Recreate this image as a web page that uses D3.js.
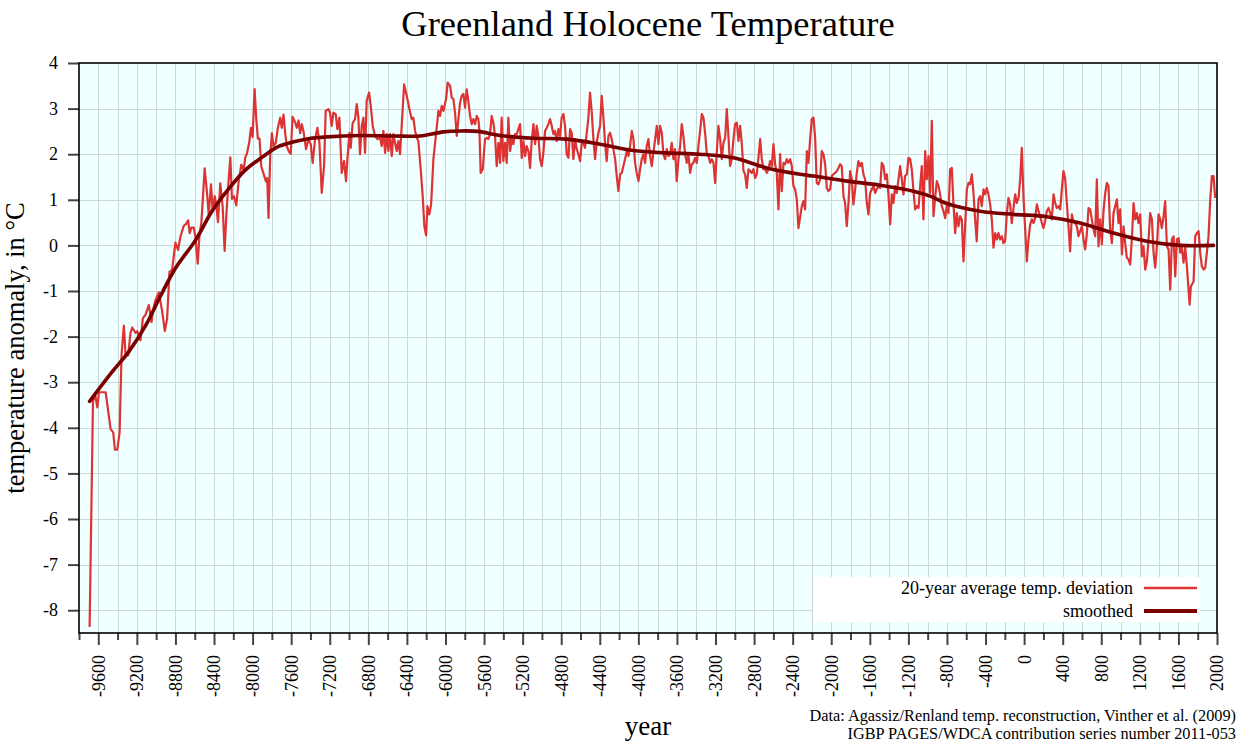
<!DOCTYPE html>
<html><head><meta charset="utf-8">
<script src="https://cdn.jsdelivr.net/npm/d3@7"></script>
<style>
body{margin:0;background:#fff}
svg{display:block;font-family:"Liberation Serif","Times New Roman",serif}
</style>
</head><body>
<svg id="chart" width="1243" height="743"></svg>
<script>
// ---------- data ----------
const chartTitle = "Greenland Holocene Temperature";
const yTitle = "temperature anomaly, in °C";
const xTitle = "year";
const creditLines = ["Data: Agassiz/Renland temp. reconstruction, Vinther et al. (2009)",
                     "IGBP PAGES/WDCA contribution series number 2011-053"];
const legendLabels = ["20-year average temp. deviation", "smoothed"];
const xDomain = [-9800, 2000];
const yDomain = [-8.5, 4];
const xMajorTicks = [-9600,-9200,-8800,-8400,-8000,-7600,-7200,-6800,-6400,-6000,-5600,-5200,-4800,-4400,-4000,-3600,-3200,-2800,-2400,-2000,-1600,-1200,-800,-400,0,400,800,1200,1600,2000];
const xMinorTicks = [-9800,-9400,-9000,-8600,-8200,-7800,-7400,-7000,-6600,-6200,-5800,-5400,-5000,-4600,-4200,-3800,-3400,-3000,-2600,-2200,-1800,-1400,-1000,-600,-200,200,600,1000,1400,1800];
const yTicks = [-8,-7,-6,-5,-4,-3,-2,-1,0,1,2,3,4];

// 20-year average temperature deviation [year, °C]
const deviation = [
[-9690,-8.37],[-9655,-3.42],[-9634,-3.26],[-9610,-3.55],[-9593,-3.22],[-9524,-3.22],[-9472,-4.03],[-9445,-4.1],[-9428,-4.48],[-9403,-4.48],[-9379,-4.1],[-9359,-2.41],[-9335,-1.76],[-9317,-2.41],[-9290,-2.41],[-9266,-1.92],[-9248,-1.8],[-9214,-1.92],[-9197,-1.88],[-9162,-2.08],[-9138,-1.6],[-9110,-1.52],[-9076,-1.31],[-9048,-1.68],[-9034,-1.44],[-9007,-1.2],[-8972,-1.03],[-8938,-1.44],[-8910,-1.88],[-8886,-1.6],[-8862,-0.58],[-8835,-0.54],[-8800,0.06],[-8773,-0.1],[-8748,0.19],[-8714,0.43],[-8690,0.47],[-8669,0.55],[-8652,0.27],[-8635,0.39],[-8610,0.39],[-8593,0.19],[-8569,-0.4],[-8552,0.19],[-8531,0.51],[-8517,0.97],[-8497,1.69],[-8473,1.16],[-8455,0.67],[-8431,1.34],[-8414,0.75],[-8393,1.08],[-8376,0.88],[-8359,0.51],[-8335,1.36],[-8310,0.84],[-8290,-0.12],[-8272,0.67],[-8255,1.24],[-8231,1.93],[-8214,1.02],[-8193,1.08],[-8169,0.88],[-8145,1.4],[-8117,1.77],[-8093,1.65],[-8076,1.93],[-8059,2.01],[-8035,2.26],[-8017,2.58],[-8000,2.38],[-7979,3.43],[-7962,2.78],[-7945,2.34],[-7928,2.34],[-7910,1.73],[-7886,1.57],[-7862,1.4],[-7848,1.48],[-7835,0.6],[-7817,1.97],[-7800,2.46],[-7783,2.17],[-7759,2.26],[-7738,2.58],[-7714,2.8],[-7697,2.58],[-7679,2.87],[-7662,2.46],[-7645,2.17],[-7621,2.05],[-7604,2.01],[-7586,2.82],[-7559,2.7],[-7542,2.58],[-7524,2.74],[-7507,2.46],[-7490,2.66],
[-7473,2.51],[-7446,2.11],[-7422,2.33],[-7397,2.22],[-7377,1.81],[-7352,2.33],[-7328,2.58],[-7307,2.25],[-7283,1.15],[-7259,1.74],[-7242,2.95],[-7214,2.99],[-7197,2.91],[-7180,2.62],[-7162,2.91],[-7138,2.88],[-7121,2.55],[-7100,2.8],[-7076,1.59],[-7052,1.85],[-7031,1.41],[-7017,1.89],[-6996,2.47],[-6983,2.14],[-6962,2.69],[-6938,2.77],[-6920,3.1],[-6903,2.8],[-6886,2.0],[-6868,2.62],[-6851,2.8],[-6834,2.03],[-6817,3.17],[-6792,3.35],[-6775,3.06],[-6754,2.62],[-6730,2.4],[-6706,2.33],[-6678,2.36],[-6661,2.18],[-6644,2.51],[-6626,2.03],[-6609,2.44],[-6592,2.07],[-6575,2.44],[-6557,1.96],[-6540,2.44],[-6523,2.25],[-6505,2.07],[-6488,2.29],[-6471,2.0],[-6454,2.62],[-6429,3.53],[-6402,3.28],[-6374,2.99],[-6350,2.77],[-6333,2.8],[-6315,2.51],[-6298,2.36],[-6281,2.29],[-6257,1.67],[-6236,1.08],[-6219,0.42],[-6201,0.22],[-6187,0.86],[-6167,0.68],[-6149,0.9],[-6125,1.89],[-6098,2.44],[-6073,2.95],[-6056,2.84],[-6039,3.06],[-6021,2.95],[-5994,3.21],[-5977,3.57],[-5952,3.5],[-5935,3.24],[-5918,3.21],[-5901,2.91],[-5883,2.4],
[-5849,3.13],[-5832,3.28],[-5814,3.32],[-5797,3.02],[-5780,3.42],[-5763,3.17],[-5745,2.84],[-5728,2.66],[-5711,2.77],[-5693,2.66],[-5676,2.84],[-5659,2.77],[-5648,2.51],[-5635,1.59],[-5614,1.67],[-5590,2.33],[-5572,2.36],[-5555,2.33],[-5538,2.44],[-5521,2.84],[-5503,2.69],[-5486,2.4],[-5469,1.74],[-5451,2.25],[-5434,1.81],[-5417,2.8],[-5400,1.85],[-5382,2.25],[-5365,1.81],[-5348,2.8],[-5330,2.07],[-5313,2.33],[-5296,2.22],[-5279,2.44],[-5261,2.44],[-5244,2.55],[-5227,2.66],[-5209,1.92],[-5192,2.29],[-5175,1.96],[-5158,2.18],[-5140,2.07],[-5123,1.7],[-5106,2.29],[-5088,2.66],[-5071,2.22],[-5054,2.62],[-5037,2.4],[-5019,1.89],[-5002,1.74],[-4985,2.03],[-4967,2.51],[-4950,2.58],[-4933,2.66],[-4916,2.77],[-4898,2.62],[-4881,2.44],[-4864,2.51],[-4846,2.29],[-4829,2.55],[-4812,2.4],[-4795,2.8],[-4777,2.88],[-4760,2.62],[-4743,2.0],[-4725,1.92],[-4708,2.55],[-4691,2.47],[-4674,1.89],[-4656,2.33],[-4639,2.11],[-4622,2.0],[-4604,1.85],[-4587,2.25],[-4570,2.25],[-4553,2.14],[-4535,2.47],[-4518,2.8],[-4501,3.35],[-4483,2.91],[-4466,2.33],[-4449,1.89],[-4432,2.25],[-4414,2.47],[-4397,2.62],[-4380,3.28],[-4362,2.8],[-4345,2.22],[-4328,1.85],[-4310,2.4],[-4293,2.47],[-4276,2.33],[-4259,2.11],[-4241,1.89],[-4224,1.52],[-4207,1.19],[-4189,1.56],[-4172,1.59],[-4155,1.74],[-4138,1.89],[-4120,2.07],[-4103,1.96],[-4086,2.18],[-4068,2.51],[-4051,2.33],[-4034,1.81],[-4017,1.59],[-3999,1.41],[-3982,1.67],[-3965,1.89],[-3947,2.0],[-3930,1.81],[-3913,2.18],[-3896,2.33],[-3878,1.96],[-3861,1.74],[-3844,2.03],[-3826,2.33],[-3809,2.62],[-3792,2.22],[-3775,2.62],[-3757,2.47],[-3740,2.0],[-3723,1.89],[-3705,2.11],[-3688,1.96],[-3671,2.0],[-3654,2.25],[-3636,1.89],[-3619,2.11],[-3602,1.41],[-3584,1.89],[-3567,2.18],[-3550,2.66],[-3533,2.4],[-3515,2.0],[-3498,1.81],[-3481,2.0],[-3463,1.59],[-3446,1.78],[-3429,1.81],[-3412,1.92],[-3394,1.81],[-3377,2.18],[-3360,2.51],[-3342,2.88],[-3325,2.8],[-3308,2.47],[-3291,2.03],[-3273,1.96],[-3256,1.81],[-3239,1.89],[-3221,1.81],[-3204,1.37],[-3187,2.03],[-3170,2.62],[-3152,2.33],[-3135,1.89],[-3118,2.25],[-3100,2.36],[-3083,2.99],[-3066,2.4],[-3049,1.74],[-3031,1.89],[-3014,2.33],[-2997,2.66],[-2979,2.69],[-2962,2.29],[-2945,2.62],[-2928,2.25],[-2910,1.63],[-2893,1.56],[-2876,1.26],[-2858,1.67],[-2841,1.63],[-2824,1.59],[-2807,1.67],[-2789,1.48],[-2772,1.56],[-2755,1.92],[-2737,2.33],[-2720,1.89],[-2703,1.67],[-2686,1.67],[-2668,1.59],[-2651,1.67],[-2634,1.85],[-2616,1.74],[-2599,2.22],[-2582,1.78],[-2565,1.59],[-2547,0.79],[-2530,2.0],[-2513,1.19],[-2495,1.81],[-2478,1.78],[-2461,1.89],[-2444,1.81],[-2426,1.89],[-2409,1.74],[-2392,1.3],[-2374,1.23],[-2357,1.01],[-2340,0.38],
[-2305,0.86],[-2288,0.97],[-2271,0.79],[-2253,2.07],[-2236,1.81],[-2219,2.33],[-2202,2.77],[-2184,2.8],[-2167,2.36],[-2150,1.37],[-2133,1.34],[-2115,1.45],[-2098,2.07],[-2081,2.0],[-2063,1.78],[-2046,1.26],[-2029,1.19],[-2012,1.23],[-1994,1.52],[-1977,1.56],[-1960,1.59],[-1942,1.63],[-1925,1.7],[-1908,1.78],[-1891,1.74],[-1873,1.08],[-1856,0.93],[-1839,0.42],[-1821,0.93],[-1804,1.63],[-1787,1.45],[-1770,0.9],[-1752,1.23],[-1735,1.59],[-1718,1.85],[-1700,1.74],[-1683,1.81],[-1666,1.56],[-1649,1.45],[-1631,0.93],[-1614,0.68],[-1597,1.15],[-1579,1.23],[-1562,1.3],[-1545,1.15],[-1528,1.23],[-1510,1.3],[-1493,1.26],[-1476,1.81],[-1458,1.74],[-1441,1.45],[-1424,1.56],[-1407,1.12],[-1389,0.46],[-1372,1.12],[-1355,0.93],[-1337,1.3],[-1320,1.15],[-1303,1.45],[-1286,1.74],[-1268,1.45],[-1251,1.12],[-1234,1.52],[-1216,1.56],[-1199,1.92],[-1182,1.89],[-1165,1.67],[-1147,1.19],[-1130,0.79],[-1113,0.86],[-1095,0.82],[-1078,1.3],[-1061,1.74],[-1044,0.57],[-1026,2.07],[-1009,1.45],[-992,1.96],[-975,1.15],[-957,2.73],[-940,0.64],[-923,1.04],[-905,1.41],[-888,1.3],[-871,1.12],[-854,0.86],[-836,0.75],[-819,0.6],[-802,0.86],[-784,0.71],[-767,1.67],[-750,1.7],[-733,0.93],[-715,0.27],[-698,0.71],[-681,0.42],[-663,0.64],[-646,0.57],[-629,-0.35],[-612,0.42],[-594,1.23],[-577,1.37],[-560,1.34],[-542,1.56],[-525,1.15],[-508,0.57],[-491,0.09],[-473,1.01],[-456,1.08],[-439,0.86],[-421,1.23],[-404,1.12],[-387,1.26],[-370,1.12],[-352,0.9],[-335,0.57],[-318,-0.05],[-300,0.27],[-283,0.13],[-266,0.27],[-249,0.13],[-231,0.2],[-214,0.05],[-197,0.09],[-179,0.71],[-162,1.04],[-145,0.9],[-128,0.49],[-110,0.82],[-93,1.12],[-76,0.93],[-58,1.04],[-41,1.45],[-24,2.14],[-7,1.08],[11,0.35],[28,-0.35],[45,0.13],[63,0.46],[80,0.57],[97,0.49],[114,0.6],[132,0.9],[149,0.75],[166,0.64],[184,0.49],[201,0.38],[218,0.53],[235,0.75],[253,0.82],[270,0.71],[287,0.57],[305,1.12],[322,0.93],[339,0.82],[356,0.86],[374,0.79],[391,1.23],[408,1.63],[426,1.45],[443,0.93],[460,0.42],[477,-0.13],[495,0.68],[512,0.53],[529,0.49],[547,0.42],[564,0.2],[581,0.31],[598,0.42],[616,0.13],[633,-0.09],[650,0.24],[668,0.82],[685,0.79],[702,0.57],[720,0.35],[737,0.2],[754,1.45],[771,-0.02],[789,0.57],[806,0.02],[823,0.75],[841,1.15],[858,1.37],[875,1.3],[892,0.35],[910,0.05],[927,0.71],[944,0.86],[962,1.01],[979,0.49],[996,0.79],[1014,-0.2],[1031,0.42],[1048,0.05],[1065,-0.27],[1083,-0.31],[1100,-0.42],[1117,0.13],[1135,0.93],[1152,0.57],[1169,0.71],[1186,0.49],[1204,0.68],[1221,-0.24],[1238,-0.02],[1256,-0.53],[1273,-0.35],[1290,0.13],[1307,0.71],[1325,0.57],[1342,-0.16],[1359,-0.49],[1377,-0.02],[1394,0.68],[1411,0.57],[1428,0.38],[1446,0.64],[1463,0.97],[1480,-0.02],[1498,-0.09],[1515,-0.97],[1532,0.13],[1550,0.2],[1567,-0.68],[1584,0.13],[1602,0.16],[1619,-0.16],[1636,-0.05],[1653,-0.38],[1671,-0.05],[1688,-0.46],[1705,-0.97],[1716,-1.3],[1729,-0.9],[1757,-0.79],[1774,0.2],[1792,0.27],[1809,0.31],[1826,-0.16],[1843,-0.46],[1861,-0.53],[1878,-0.49],[1895,-0.16],[1912,0.2],[1930,1.01],[1947,1.52],[1964,1.52],[1981,1.04]
];

// smoothed curve [year, °C]
const smoothed = [
[-9690,-3.42],[-9455,-2.77],[-9283,-2.33],[-9110,-1.76],[-8955,-1.11],[-8800,-0.5],[-8593,0.11],[-8421,0.75],[-8248,1.24],[-8076,1.65],[-7904,1.93],[-7731,2.17],[-7559,2.28],[-7421,2.34],[-7231,2.38],[-6886,2.41],[-6540,2.4],[-6264,2.4],[-6021,2.49],[-5849,2.51],[-5659,2.5],[-5434,2.41],[-5088,2.35],[-4743,2.33],[-4397,2.22],[-4051,2.08],[-3705,2.03],[-3360,2.0],[-3014,1.92],[-2668,1.7],[-2323,1.56],[-2184,1.52],[-1839,1.41],[-1493,1.32],[-1147,1.19],[-975,1.08],[-802,0.92],[-456,0.75],[-110,0.68],[235,0.63],[581,0.49],[927,0.27],[1273,0.09],[1619,0.0],[1964,0.0]
];

// ---------- drawing ----------
const L = 79, R = 1217, T = 63, B = 633;
const svg = d3.select("#chart");
const x = d3.scaleLinear(xDomain, [L, R]);
const y = d3.scaleLinear(yDomain, [B, T]);

svg.append("rect").attr("x", L).attr("y", T).attr("width", R - L).attr("height", B - T).attr("fill", "#f0ffff");

// grid
const gridX = xMajorTicks.concat(xMinorTicks).filter(v => v > xDomain[0] && v < xDomain[1]);
const gridY = yTicks.filter(v => v > yDomain[0] && v < yDomain[1]);
const grid = svg.append("g").attr("stroke", "#cbd8d8").attr("stroke-width", 1);
grid.selectAll("line.v").data(gridX).join("line").attr("class", "v")
  .attr("x1", d => Math.round(x(d)) + 0.5).attr("x2", d => Math.round(x(d)) + 0.5)
  .attr("y1", T).attr("y2", B);
grid.selectAll("line.h").data(gridY).join("line").attr("class", "h")
  .attr("y1", d => Math.round(y(d)) + 0.5).attr("y2", d => Math.round(y(d)) + 0.5)
  .attr("x1", L).attr("x2", R);

svg.append("clipPath").attr("id", "clip").append("rect")
  .attr("x", L).attr("y", T).attr("width", R - L).attr("height", B - T);

const line = d3.line().x(d => x(d[0])).y(d => y(d[1]));
svg.append("path").datum(deviation).attr("clip-path", "url(#clip)")
  .attr("d", line).attr("fill", "none").attr("stroke", "#dd3333")
  .attr("stroke-width", 2.2).attr("stroke-linejoin", "round");

const smoothLine = d3.line().x(d => x(d[0])).y(d => y(d[1])).curve(d3.curveCatmullRom.alpha(0.5));
svg.append("path").datum(smoothed).attr("clip-path", "url(#clip)")
  .attr("d", smoothLine).attr("fill", "none").attr("stroke", "#7a0000")
  .attr("stroke-width", 3.6).attr("stroke-linecap", "round");

// legend
const lg = svg.append("g");
lg.append("rect").attr("x", 813).attr("y", 577).attr("width", 387).attr("height", 45).attr("fill", "#ffffff");
const legendStyles = [{c: "#dd3333", w: 2.4, yy: 588}, {c: "#7a0000", w: 4, yy: 611}];
legendLabels.forEach((lab, i) => {
  lg.append("text").attr("x", 1133).attr("y", legendStyles[i].yy + 6).attr("text-anchor", "end")
    .attr("font-size", 18).text(lab);
  lg.append("line").attr("x1", 1144).attr("x2", 1197).attr("y1", legendStyles[i].yy).attr("y2", legendStyles[i].yy)
    .attr("stroke", legendStyles[i].c).attr("stroke-width", legendStyles[i].w);
});

// axes
const yAxis = svg.append("g").attr("transform", `translate(${L},0)`)
  .call(d3.axisLeft(y).tickValues(yTicks).tickSize(11).tickPadding(10).tickFormat(d => String(d)));
yAxis.select(".domain").remove();
yAxis.selectAll(".tick line").attr("stroke", "#444").attr("stroke-width", 2);
yAxis.selectAll(".tick text").attr("font-size", 18).attr("font-family", "Liberation Serif, serif").attr("fill", "#000");

const xMinor = svg.append("g").attr("transform", `translate(0,${B})`)
  .call(d3.axisBottom(x).tickValues(xMinorTicks).tickSize(7).tickFormat(""));
xMinor.select(".domain").remove();
xMinor.selectAll(".tick line").attr("stroke", "#444").attr("stroke-width", 2);

const xAxis = svg.append("g").attr("transform", `translate(0,${B})`)
  .call(d3.axisBottom(x).tickValues(xMajorTicks).tickSize(12).tickFormat(d => String(d)));
xAxis.select(".domain").remove();
xAxis.selectAll(".tick line").attr("stroke", "#444").attr("stroke-width", 2);
xAxis.selectAll(".tick text").attr("font-size", 18).attr("font-family", "Liberation Serif, serif").attr("fill", "#000")
  .attr("transform", "rotate(-90)").attr("text-anchor", "end")
  .attr("x", -22).attr("y", 0).attr("dy", "0.33em");

// frame
svg.append("rect").attr("x", L).attr("y", T).attr("width", R - L).attr("height", B - T)
  .attr("fill", "none").attr("stroke", "#000").attr("stroke-width", 1.6);

// titles
svg.append("text").attr("x", (L + R) / 2).attr("y", 36).attr("text-anchor", "middle")
  .attr("font-size", 36.5).text(chartTitle);
svg.append("text").attr("transform", `translate(24,${(T + B) / 2}) rotate(-90)`).attr("text-anchor", "middle")
  .attr("font-size", 26.5).text(yTitle);
svg.append("text").attr("x", (L + R) / 2).attr("y", 735).attr("text-anchor", "middle")
  .attr("font-size", 27).text(xTitle);
creditLines.forEach((c, i) => {
  svg.append("text").attr("x", 1236).attr("y", 720.5 + i * 18.5).attr("text-anchor", "end")
    .attr("font-size", 16.3).text(c);
});
</script>
</body></html>
